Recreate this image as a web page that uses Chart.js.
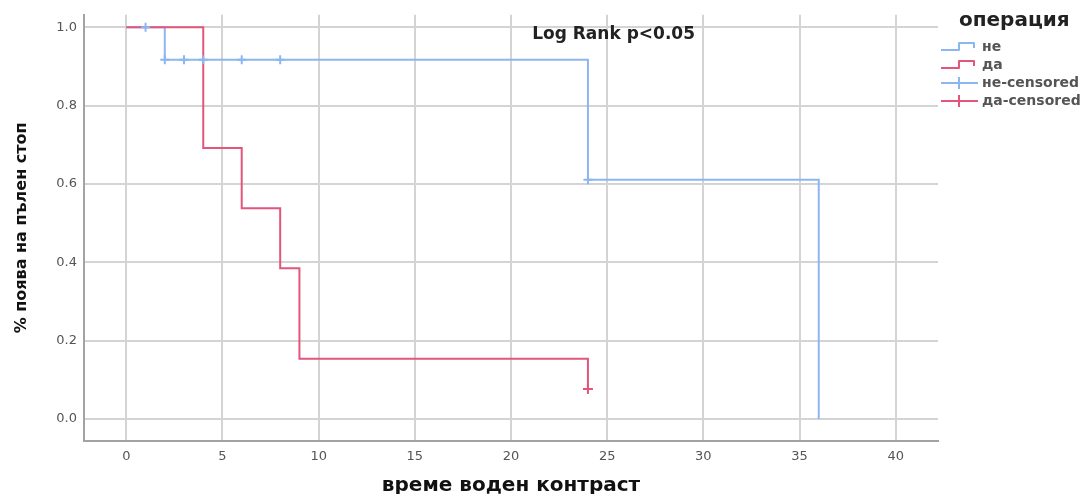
<!DOCTYPE html>
<html>
<head>
<meta charset="utf-8">
<script src="https://cdn.jsdelivr.net/npm/chart.js@4/dist/chart.umd.min.js"></script>
<style>
  html, body { margin: 0; padding: 0; background: #ffffff; }
  #wrap { width: 1092px; height: 494px; }
</style>
</head>
<body>
<div id="wrap"><canvas id="km" width="1092" height="494"></canvas></div>
<script>
// Kaplan–Meier curves: time of event and survival estimate after that event
const neTimes = [0, 2, 24, 36];
const neSurvival = [1.0, 0.917, 0.611, 0.0];
const daTimes = [0, 4, 6, 8, 9, 24];
const daSurvival = [1.0, 0.692, 0.538, 0.385, 0.154, 0.077];

// censored observations (times)
const neCensoredTimes = [1, 2, 3, 4, 6, 8, 24];
const daCensoredTimes = [24];

// axis ticks
const xTicks = [0, 5, 10, 15, 20, 25, 30, 35, 40];
const yTicks = [0.0, 0.2, 0.4, 0.6, 0.8, 1.0];

// labels
const seriesLabels = ['не', 'да', 'не-censored', 'да-censored'];
const legendTitle = 'операция';
const xTitle = 'време воден контраст';
const yTitle = '% поява на пълен стоп';
const noteText = 'Log Rank p<0.05';

const BLUE = '#8cb6f2';
const RED = '#e3557d';
const FONT = "'DejaVu Sans', sans-serif";

function toPoints(xs, ys) {
  return xs.map((x, i) => ({ x: x, y: ys[i] }));
}

// survival level of a step curve at time t (value of the last event at or before t)
function levelAt(times, surv, t) {
  let v = surv[0];
  for (let i = 0; i < times.length; i++) {
    if (times[i] <= t) v = surv[i];
  }
  return v;
}

function censoredPoints(ct, times, surv) {
  return ct.map(t => ({ x: t, y: levelAt(times, surv, t) }));
}

// legend + annotation drawn on the canvas after the plot
const extrasPlugin = {
  id: 'kmExtras',
  afterDraw(chart) {
    const { ctx, chartArea, scales } = chart;
    ctx.save();

    // annotation
    ctx.fillStyle = '#222';
    ctx.font = "bold 17px " + FONT;
    ctx.textBaseline = 'middle';
    ctx.textAlign = 'left';
    ctx.fillText(noteText, scales.x.getPixelForValue(21.1), chartArea.top + 20);

    // legend
    const lx = chartArea.right;
    ctx.fillStyle = '#222';
    ctx.font = "bold 20px " + FONT;
    ctx.fillText(legendTitle, lx + 21, 21);

    const rows = [
      { label: seriesLabels[0], color: BLUE, kind: 'step' },
      { label: seriesLabels[1], color: RED, kind: 'step' },
      { label: seriesLabels[2], color: BLUE, kind: 'cens' },
      { label: seriesLabels[3], color: RED, kind: 'cens' }
    ];
    rows.forEach((r, i) => {
      const yc = 47 + i * 18;
      ctx.strokeStyle = r.color;
      ctx.lineWidth = 2;
      ctx.lineJoin = 'round';
      ctx.beginPath();
      if (r.kind === 'step') {
        ctx.moveTo(lx + 3, yc + 3);
        ctx.lineTo(lx + 21, yc + 3);
        ctx.lineTo(lx + 21, yc - 4);
        ctx.lineTo(lx + 36, yc - 4);
        ctx.lineTo(lx + 36, yc + 1);
      } else {
        ctx.moveTo(lx + 3, yc);
        ctx.lineTo(lx + 40, yc);
        ctx.moveTo(lx + 21, yc - 6);
        ctx.lineTo(lx + 21, yc + 6);
      }
      ctx.stroke();
      ctx.fillStyle = '#555';
      ctx.font = "bold 14px " + FONT;
      ctx.fillText(r.label, lx + 44, yc);
    });
    ctx.restore();
  }
};

new Chart(document.getElementById('km'), {
  type: 'line',
  data: {
    datasets: [
      {
        label: seriesLabels[2],
        data: censoredPoints(neCensoredTimes, neTimes, neSurvival),
        showLine: false,
        pointStyle: 'cross',
        pointRadius: 4.5,
        pointBorderWidth: 2,
        borderColor: BLUE,
        backgroundColor: BLUE,
        order: 0
      },
      {
        label: seriesLabels[3],
        data: censoredPoints(daCensoredTimes, daTimes, daSurvival),
        showLine: false,
        pointStyle: 'cross',
        pointRadius: 5,
        pointBorderWidth: 2,
        borderColor: RED,
        backgroundColor: RED,
        order: 0
      },
      {
        label: seriesLabels[1],
        data: toPoints(daTimes, daSurvival),
        stepped: 'before',
        borderColor: RED,
        borderWidth: 2,
        pointRadius: 0,
        fill: false,
        order: 1
      },
      {
        label: seriesLabels[0],
        data: toPoints(neTimes, neSurvival),
        stepped: 'before',
        borderColor: BLUE,
        borderWidth: 2,
        pointRadius: 0,
        fill: false,
        order: 2
      }
    ]
  },
  options: {
    responsive: false,
    animation: false,
    layout: { padding: { left: 0, top: 12, right: 154, bottom: 0 } },
    plugins: {
      legend: { display: false },
      tooltip: { enabled: false }
    },
    scales: {
      x: {
        type: 'linear',
        min: -2.2,
        max: 42.2,
        afterBuildTicks: s => { s.ticks = xTicks.map(v => ({ value: v })); },
        afterFit: s => { s.height = 53; },
        grid: { color: '#d4d4d4', lineWidth: 2, drawTicks: false },
        border: { color: '#a3a3a3', width: 2 },
        ticks: {
          padding: 8,
          color: '#555',
          font: { family: FONT, size: 13 },
          maxRotation: 0,
          callback: v => String(v)
        },
        title: {
          display: true,
          text: xTitle,
          color: '#111',
          font: { family: FONT, size: 20, weight: 'bold', lineHeight: 1 },
          padding: { top: 0, bottom: -2 }
        }
      },
      y: {
        type: 'linear',
        min: -0.056,
        max: 1.032,
        afterBuildTicks: s => { s.ticks = yTicks.map(v => ({ value: v })); },
        afterFit: s => { s.width = 84; },
        grid: { color: '#d4d4d4', lineWidth: 2, drawTicks: false },
        border: { color: '#a3a3a3', width: 2 },
        ticks: {
          padding: 7,
          color: '#555',
          font: { family: FONT, size: 13 },
          callback: v => Number(v).toFixed(1)
        },
        title: {
          display: true,
          text: yTitle,
          color: '#111',
          font: { family: FONT, size: 16, weight: 'bold' },
          padding: { top: 12, bottom: 0 }
        }
      }
    }
  },
  plugins: [extrasPlugin]
});
</script>
</body>
</html>
